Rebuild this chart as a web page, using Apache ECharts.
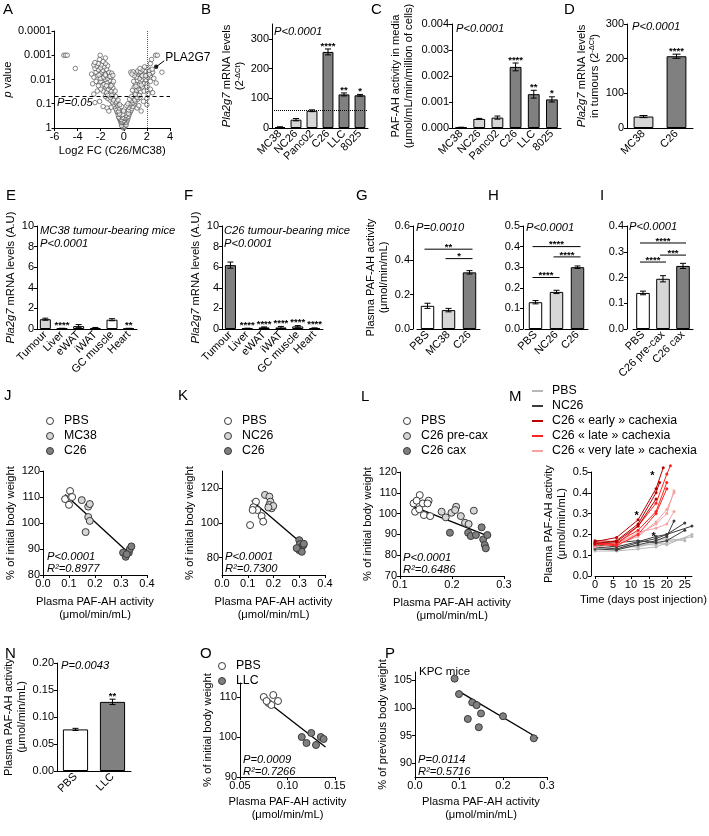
<!DOCTYPE html>
<html>
<head>
<meta charset="utf-8">
<script src="https://cdn.jsdelivr.net/npm/echarts@6/dist/echarts.min.js"></script>
<style>html,body{margin:0;padding:0;background:#fff}#fig{width:709px;height:836px}</style>
</head>
<body>
<div id="fig"></div>
<script>
// ---- data ----
// A: volcano, [log2 FC, p value]
var volcano = [
  [-0.05,1],[0.02,0.95],[0.08,0.9],[-0.12,0.85],[0.1,0.8],[-0.08,0.75],[0.15,0.7],[-0.18,0.68],[0.05,0.65],
  [0.0,0.85],[-0.03,0.7],[0.12,0.62],[-0.2,0.8],[0.2,0.75],[-0.1,0.6],[0.07,0.55],
  [-0.25,0.6],[0.22,0.58],[-0.3,0.5],[0.28,0.5],[-0.15,0.55],[0.12,0.45],[-0.35,0.42],[0.35,0.42],[0,0.5],[-0.05,0.4],
  [-0.22,0.45],[0.18,0.4],[-0.4,0.38],[0.3,0.36],[0.02,0.38],[-0.12,0.36],
  [-0.45,0.35],[0.4,0.33],[-0.2,0.3],[0.18,0.3],[-0.5,0.28],[0.48,0.27],[-0.55,0.22],[0.55,0.22],[-0.3,0.22],[0.3,0.2],
  [-0.62,0.2],[0.62,0.19],[0.05,0.25],[-0.1,0.28],[-0.38,0.26],[0.38,0.25],[-0.45,0.2],[0.42,0.18],[-0.02,0.2],
  [-0.7,0.16],[0.7,0.16],[-0.4,0.15],[0.45,0.14],[-0.8,0.13],[0.78,0.13],[-0.55,0.12],[0.55,0.11],[-0.9,0.11],[0.9,0.1],
  [-0.2,0.13],[0.25,0.12],[-1.1,0.14],[1.15,0.15],[-1.45,0.15],[1.5,0.2],[-1.8,0.13],[1.3,0.12],[-1.3,0.2],[2.0,0.11],
  [-0.6,0.1],[0.62,0.095],[-0.35,0.11],[0.35,0.1],[-0.72,0.09],[0.8,0.09],
  [-1.0,0.085],[1.0,0.08],[-0.65,0.08],[0.7,0.075],[-1.2,0.07],[1.2,0.065],[-0.8,0.06],[0.85,0.06],[-1.4,0.06],[1.4,0.055],
  [-0.5,0.07],[0.5,0.065],[-1.0,0.05],[1.05,0.05],[-1.6,0.05],[1.7,0.08],[-2.1,0.08],[2.0,0.06],[-2.5,0.09],
  [-0.9,0.07],[0.95,0.07],[-1.15,0.055],[1.15,0.055],[-0.7,0.05],[0.68,0.05],
  [-1.2,0.04],[1.2,0.04],[-0.9,0.035],[0.95,0.035],[-1.5,0.035],[1.45,0.033],[-1.1,0.03],[1.1,0.028],[-1.8,0.03],[1.75,0.03],
  [-1.35,0.025],[1.3,0.024],[-0.95,0.022],[0.9,0.021],[-2.0,0.025],[2.05,0.028],[-1.6,0.02],[1.6,0.02],[-2.3,0.03],[2.3,0.025],
  [-0.75,0.03],[0.75,0.028],[-2.6,0.04],[2.5,0.035],[-1.05,0.045],[1.0,0.042],[-1.4,0.045],[1.35,0.045],[-1.2,0.02],[1.2,0.02],
  [-1.3,0.017],[1.25,0.017],[-1.0,0.015],[1.0,0.015],[-1.7,0.016],[1.7,0.015],[-2.1,0.014],[2.0,0.016],[-1.45,0.013],[1.45,0.012],
  [-1.2,0.011],[1.15,0.011],[-2.4,0.012],[2.3,0.012],[-1.85,0.011],[1.9,0.01],[-0.9,0.012],[0.85,0.012],[-2.7,0.015],[2.8,0.014],
  [-1.6,0.01],[1.55,0.01],[-1.1,0.018],[1.05,0.019],[-1.5,0.018],[1.5,0.017],[-2.0,0.012],[-2.2,0.018],
  [-1.4,0.009],[1.35,0.009],[-1.1,0.008],[1.1,0.008],[-2.0,0.009],[2.05,0.008],[-1.75,0.008],[1.75,0.008],[-2.3,0.007],[2.3,0.007],
  [-1.5,0.007],[1.5,0.0065],[-1.25,0.006],[1.25,0.006],[-2.6,0.008],[2.6,0.009],[-2.0,0.006],[1.95,0.006],[-1.65,0.0055],[1.65,0.0055],
  [-2.4,0.005],[2.4,0.0055],[-1.3,0.005],[1.3,0.005],[-2.8,0.006],[2.15,0.005],[-1.9,0.005],[1.85,0.0045],[-1.05,0.0055],[1.0,0.0055],
  [0.6,0.005],[0.8,0.0048],[1.2,0.0045],[1.45,0.0048],[2.5,0.005],[0.9,0.007],[0.7,0.006],[1.6,0.007],[1.9,0.007],[2.2,0.006],
  [-1.2,0.0075],[-1.6,0.0065],[-2.15,0.0065],[-0.95,0.0068],
  [-2.2,0.004],[2.2,0.0042],[-1.8,0.0042],[1.6,0.004],[-2.5,0.0035],[2.45,0.0038],[-1.5,0.0038],[1.4,0.0035],[-2.0,0.0033],[2.0,0.0033],
  [-1.7,0.003],[1.8,0.003],[-2.35,0.0028],[-2.6,0.0025],[-1.95,0.0025],[-1.4,0.0027],[-2.2,0.0022],[2.3,0.0022],[-1.6,0.0022],
  [-2.5,0.002],[-1.8,0.0018],[-2.1,0.0015],[-1.6,0.0013],
  [-5.2,0.001],[-5.05,0.001],[-4.9,0.001],[-4.2,0.0035],[-2.05,0.001],[2.75,0.001],[2.9,0.001],[3.3,0.005],[2.4,0.0015],
  [2.0,0.02],[2.1,0.04]
];
var pla2g7 = [[2.8, 0.003]];
var pCutoff = 0.05, fcCutoff = 2;

// B-D
var cellLines = ['MC38', 'NC26', 'Panc02', 'C26', 'LLC', '8025'];
var mrnaCells = [3, 28, 58, 256, 113, 110];
var mrnaCellsSem = [1, 4, 3, 10, 5, 3];
var mrnaCellsStars = ['', '', '', '****', '**', '*'];
var mrnaCellsRef = 60;
var pafMedia = [0.00002, 0.00035, 0.0004, 0.00235, 0.0013, 0.0011];
var pafMediaSem = [0.00001, 0.00002, 0.00006, 0.00015, 0.00015, 0.0001];
var pafMediaStars = ['', '', '', '****', '**', '*'];
var pafMediaRef = 0.00042;
var tumours = ['MC38', 'C26'];
var mrnaTumours = [33, 207];
var mrnaTumoursSem = [3, 6];
var mrnaTumoursStars = ['', '****'];

// E-F
var tissues = ['Tumour', 'Liver', 'eWAT', 'iWAT', 'GC muscle', 'Heart'];
var mrnaMC38 = [0.95, 0.05, 0.28, 0.1, 0.9, 0.05];
var mrnaMC38Sem = [0.1, 0.02, 0.15, 0.05, 0.1, 0.02];
var mrnaMC38Stars = ['', '****', '', '', '', '**'];
var mrnaC26 = [6.2, 0.05, 0.15, 0.15, 0.25, 0.08];
var mrnaC26Sem = [0.3, 0.03, 0.05, 0.1, 0.08, 0.03];
var mrnaC26Stars = ['', '****', '****', '****', '****', '****'];

// G-I
var groupsG = ['PBS', 'MC38', 'C26'];
var plasmaG = [0.135, 0.11, 0.33];
var plasmaGSem = [0.015, 0.01, 0.01];
var sigG = [[0, 2, 0.465], [1, 2, 0.41]];
var sigGText = ['**', '*'];
var groupsH = ['PBS', 'NC26', 'C26'];
var plasmaH = [0.13, 0.18, 0.30];
var plasmaHSem = [0.008, 0.008, 0.006];
var sigH = [[0, 2, 0.40], [1, 2, 0.35], [0, 1, 0.25]];
var sigHText = ['****', '****', '****'];
var groupsI = ['PBS', 'C26 pre-cax', 'C26 cax'];
var plasmaI = [0.14, 0.195, 0.245];
var plasmaISem = [0.007, 0.012, 0.01];
var sigI = [[0, 2, 0.334], [1, 2, 0.287], [0, 1, 0.26]];
var sigIText = ['****', '***', '****'];

// J-L: [plasma PAF-AH, % of initial body weight]
var jPBS = [[0.085, 109.2], [0.104, 112.3], [0.108, 110], [0.112, 110], [0.10, 107]];
var jMC38 = [[0.149, 108.8], [0.164, 96.5], [0.174, 106.3], [0.18, 107.3], [0.174, 102.3], [0.18, 100.8]];
var jC26 = [[0.308, 88.6], [0.318, 87], [0.33, 88.6], [0.334, 90], [0.34, 91], [0.322, 88]];
var jFit = [[0.085, 111], [0.33, 88.5]];
var kPBS = [[0.109, 98.8], [0.132, 112.3], [0.122, 109.1], [0.137, 107.5], [0.119, 107.5], [0.154, 104], [0.16, 100.8]];
var kNC26 = [[0.167, 116.2], [0.184, 115.2], [0.188, 112.3], [0.184, 110.4], [0.193, 108.5], [0.199, 109.8], [0.18, 109]];
var kC26 = [[0.30, 90.1], [0.303, 87.8], [0.31, 86.3], [0.316, 87.2], [0.30, 84.3], [0.31, 83.4], [0.29, 85.5], [0.318, 88]];
var kFit = [[0.115, 113], [0.30, 89.5]];
var lPBS = [[0.126, 104.9], [0.138, 108.9], [0.132, 106.2], [0.144, 104.9], [0.155, 106.2], [0.129, 100.9], [0.137, 102.1], [0.146, 99.3], [0.158, 98.8], [0.153, 104.9]];
var lPre = [[0.18, 100.9], [0.188, 98.2], [0.199, 100.4], [0.208, 103.3], [0.206, 101.7], [0.217, 98.8], [0.225, 95.6], [0.242, 101.4], [0.232, 95]];
var lCax = [[0.196, 90.8], [0.231, 90.8], [0.236, 89.2], [0.246, 89.7], [0.257, 93.4], [0.26, 87.6], [0.263, 84.9], [0.265, 83.3], [0.268, 89.7]];
var lFit = [[0.122, 103.7], [0.27, 89.2]];

// M: [day, plasma PAF-AH] per mouse
var mPBS = [
  [[0, 0.12], [6, 0.12], [12, 0.13], [17, 0.14], [20, 0.16], [27, 0.19]],
  [[0, 0.14], [6, 0.13], [12, 0.15], [17, 0.15], [20, 0.17], [25, 0.18]],
  [[0, 0.13], [6, 0.14], [12, 0.14], [17, 0.16], [20, 0.15], [27, 0.2]],
  [[0, 0.15], [6, 0.15], [12, 0.14], [17, 0.17], [20, 0.18], [25, 0.17]]
];
var mNC26 = [
  [[0, 0.13], [6, 0.125], [12, 0.15], [17, 0.17], [20, 0.19], [22, 0.265]],
  [[0, 0.14], [6, 0.13], [12, 0.16], [17, 0.18], [20, 0.2], [25, 0.255]],
  [[0, 0.15], [6, 0.14], [12, 0.165], [17, 0.19], [20, 0.2], [27, 0.24]],
  [[0, 0.16], [6, 0.16], [12, 0.17], [17, 0.16], [20, 0.17], [25, 0.22]]
];
var mEarly = [
  [[0, 0.165], [6, 0.185], [12, 0.27], [17, 0.42], [19, 0.52]],
  [[0, 0.155], [6, 0.17], [12, 0.25], [17, 0.40], [18, 0.45]],
  [[0, 0.17], [6, 0.165], [12, 0.24], [17, 0.37]]
];
var mLate = [
  [[0, 0.16], [6, 0.15], [12, 0.24], [17, 0.35], [20, 0.49], [21, 0.53]],
  [[0, 0.15], [6, 0.16], [12, 0.22], [17, 0.31], [20, 0.45]],
  [[0, 0.155], [6, 0.145], [12, 0.2], [17, 0.3], [20, 0.42]]
];
var mVeryLate = [
  [[0, 0.15], [6, 0.16], [12, 0.2], [17, 0.25], [20, 0.3], [22, 0.41]],
  [[0, 0.16], [6, 0.15], [12, 0.19], [17, 0.26], [20, 0.32], [22, 0.4]],
  [[0, 0.14], [6, 0.15], [12, 0.21], [17, 0.23], [20, 0.25], [22, 0.31]]
];
var mStars = [[11.6, 0.29], [16, 0.48], [16.3, 0.19]];

// N-P
var groupsN = ['PBS', 'LLC'];
var plasmaN = [0.077, 0.128];
var plasmaNSem = [0.002, 0.005];
var plasmaNStars = ['', '**'];
var oPBS = [[0.075, 110], [0.08, 108.5], [0.085, 110.5], [0.09, 109], [0.083, 108], [0.078, 109]];
var oLLC = [[0.115, 100], [0.12, 98.5], [0.125, 101], [0.13, 98], [0.135, 100], [0.138, 99.5]];
var oFit = [[0.075, 109.5], [0.14, 97.5]];
var pKPC = [[0.09, 105.3], [0.1, 102.5], [0.12, 98], [0.13, 101], [0.14, 100.5], [0.145, 96.5], [0.15, 99], [0.2, 98.5], [0.27, 94.5]];
var pFit = [[0.1, 103], [0.28, 94.5]];

// ---- drawing ----
var FONT = '"Liberation Sans", Arial, Helvetica, sans-serif';
var WHITE = '#ffffff', LIGHT = '#d6d6d6', DARK = '#808080';
var FS = 11;

var grids = [], xAxes = [], yAxes = [], series = [], graphics = [];

function addGrid(l, t, w, h) {
    grids.push({left: l, top: t, width: w, height: h});
    return grids.length - 1;
}

function nameStyle() {
    return {color: '#000', fontSize: 11.2, lineHeight: 13, fontFamily: FONT,
        rich: {
            i: {fontStyle: 'italic', fontSize: 11.2, lineHeight: 13, fontFamily: FONT},
            s: {fontSize: 7.5, lineHeight: 13, verticalAlign: 'top', fontFamily: FONT}
        }};
}

function valAxis(g, min, max, step, digits, extra) {
    var ax = {
        type: 'value', gridIndex: g, min: min, max: max, interval: step,
        axisLine: {show: true, onZero: false, lineStyle: {color: '#000', width: 1}},
        axisTick: {show: true, length: 3, lineStyle: {color: '#000'}},
        splitLine: {show: false},
        axisLabel: {color: '#000', fontSize: FS, margin: 3, fontFamily: FONT,
            formatter: function (v) {
                var k = Math.round((v - min) / step);
                if (Math.abs(min + k * step - v) > step * 1e-6) return '';
                return v.toFixed(digits);
            }},
        nameLocation: 'middle', nameTextStyle: nameStyle()
    };
    for (var key in extra) ax[key] = extra[key];
    return ax;
}

// axis whose labelled ticks do not start at min
function setTicks(ax, vals, digits) {
    ax.axisTick.customValues = vals;
    ax.axisLabel.customValues = vals;
    ax.axisLabel.formatter = function (v) { return (+v).toFixed(digits); };
    return ax;
}

function catAxis(g, cats) {
    return {
        type: 'category', gridIndex: g, data: cats,
        axisLine: {show: true, onZero: false, lineStyle: {color: '#000', width: 1}},
        axisTick: {show: false},
        axisLabel: {color: '#000', fontSize: FS, rotate: 45, interval: 0, margin: 4, fontFamily: FONT}
    };
}

var STARFONT = 'bold 9.5px ' + FONT;

function barSeries(g, vals, colors, width, refLine) {
    var s = {
        type: 'bar', xAxisIndex: g, yAxisIndex: g, barWidth: width, z: 2,
        data: vals.map(function (v, i) { return {value: v, itemStyle: {color: colors[i]}}; }),
        itemStyle: {borderColor: '#000', borderWidth: 1}
    };
    if (refLine != null) {
        s.markLine = {silent: true, symbol: 'none', label: {show: false},
            lineStyle: {type: 'dotted', color: '#000', width: 1}, data: [{yAxis: refLine}]};
    }
    return s;
}

function errSeries(g, vals, sems, stars, cap) {
    return {
        type: 'custom', xAxisIndex: g, yAxisIndex: g, z: 10, silent: true,
        data: vals.map(function (v, i) { return [i, v, sems[i]]; }),
        renderItem: function (p, api) {
            var i = api.value(0), v = api.value(1), s = api.value(2);
            var hi = api.coord([i, v + s]), lo = api.coord([i, Math.max(v - s, 0)]);
            var st = {stroke: '#000', lineWidth: 1};
            var ch = [
                {type: 'line', shape: {x1: hi[0], y1: hi[1], x2: lo[0], y2: lo[1]}, style: st},
                {type: 'line', shape: {x1: hi[0] - cap, y1: hi[1], x2: hi[0] + cap, y2: hi[1]}, style: st},
                {type: 'line', shape: {x1: lo[0] - cap, y1: lo[1], x2: lo[0] + cap, y2: lo[1]}, style: st}
            ];
            var star = stars && stars[p.dataIndex];
            if (star) {
                ch.push({type: 'text', x: hi[0], y: hi[1] + 2,
                    style: {text: star, fill: '#000', font: STARFONT, align: 'center', verticalAlign: 'bottom'}});
            }
            return {type: 'group', children: ch};
        }
    };
}

function sigSeries(g, pairs, labels) {
    return {
        type: 'custom', xAxisIndex: g, yAxisIndex: g, z: 10, silent: true,
        data: pairs,
        renderItem: function (p, api) {
            var a = api.coord([api.value(0), api.value(2)]);
            var b = api.coord([api.value(1), api.value(2)]);
            return {type: 'group', children: [
                {type: 'line', shape: {x1: a[0] - 3, y1: a[1], x2: b[0] + 3, y2: b[1]}, style: {stroke: '#000', lineWidth: 1}},
                {type: 'text', x: (a[0] + b[0]) / 2, y: a[1] + 3,
                    style: {text: labels[p.dataIndex], fill: '#000', font: STARFONT, align: 'center', verticalAlign: 'bottom'}}
            ]};
        }
    };
}

function dots(g, pts, fill) {
    return {type: 'scatter', xAxisIndex: g, yAxisIndex: g, data: pts, symbolSize: 7, z: 5,
        itemStyle: {color: fill, borderColor: '#3a3a3a', borderWidth: 1, opacity: 1}};
}

function fitLine(g, pts) {
    return {type: 'line', xAxisIndex: g, yAxisIndex: g, data: pts, symbol: 'none', z: 4,
        lineStyle: {color: '#000', width: 1.3}};
}

function txt(x, y, s, font, extra) {
    var st = {text: s, fill: '#000', font: font || ('11.2px ' + FONT), verticalAlign: 'middle'};
    for (var k in extra) st[k] = extra[k];
    graphics.push({type: 'text', x: x, y: y, style: st, z: 100});
}
var ITAL = 'italic 11.2px ' + FONT;
var LETTER = '15px ' + FONT;
var LEG = '12.3px ' + FONT;

function legendDot(x, y, fill, label) {
    graphics.push({type: 'circle', shape: {cx: x, cy: y, r: 3.5}, style: {fill: fill, stroke: '#3a3a3a', lineWidth: 1}, z: 100});
    txt(x + 14, y, label, LEG);
}
function legendLine(x, y, color, label) {
    graphics.push({type: 'line', shape: {x1: x, y1: y, x2: x + 11, y2: y}, style: {stroke: color, lineWidth: 2}, z: 100});
    txt(x + 20, y, label, LEG);
}

var yName = '{i|Pla2g7} mRNA levels';
var plasmaName = 'Plasma PAF-AH activity\n(μmol/min/mL)';

// A volcano
var gA = addGrid(53, 31, 117, 97);
xAxes.push(valAxis(gA, -6, 4, 2, 0, {name: 'Log2 FC (C26/MC38)', nameGap: 16}));
yAxes.push({
    type: 'log', gridIndex: gA, logBase: 10, min: 0.0001, max: 1, inverse: true,
    axisLine: {show: true, onZero: false, lineStyle: {color: '#000'}},
    axisTick: {show: true, length: 3, lineStyle: {color: '#000'}},
    splitLine: {show: false},
    axisLabel: {color: '#000', fontSize: FS, margin: 3, fontFamily: FONT,
        formatter: function (v) { return String(+(+v).toPrecision(1)); }},
    name: '{i|p} value', nameLocation: 'middle', nameGap: 28, nameTextStyle: nameStyle()
});
series.push({
    type: 'scatter', xAxisIndex: gA, yAxisIndex: gA, data: volcano, symbolSize: 4.5, z: 3,
    itemStyle: {color: 'rgba(255,255,255,0.9)', borderColor: '#444', borderWidth: 0.8},
    markLine: {silent: true, symbol: 'none', label: {show: false}, animation: false,
        data: [
            {yAxis: pCutoff, lineStyle: {type: [4, 3], color: '#000', width: 1}},
            {xAxis: fcCutoff, lineStyle: {type: 'dotted', color: '#555', width: 1}}
        ]}
});
series.push({
    type: 'custom', xAxisIndex: gA, yAxisIndex: gA, z: 6, silent: true, data: pla2g7,
    renderItem: function (p, api) {
        var c = api.coord([api.value(0), api.value(1)]);
        return {type: 'group', children: [
            {type: 'circle', shape: {cx: c[0], cy: c[1], r: 2.2}, style: {fill: '#222'}},
            {type: 'line', shape: {x1: c[0], y1: c[1], x2: c[0] + 8, y2: c[1] - 6}, style: {stroke: '#000', lineWidth: 1}},
            {type: 'text', x: c[0] + 9, y: c[1] - 9, style: {text: 'PLA2G7', fill: '#000', font: '12px ' + FONT, verticalAlign: 'middle'}}
        ]};
    }
});
txt(57, 103, 'P=0.05', ITAL);

// B
var gB = addGrid(272, 24, 96, 104);
xAxes.push(catAxis(gB, cellLines));
yAxes.push(setTicks(valAxis(gB, 0, 350, 100, 0, {name: yName + '\n(2{s|-ΔCt})', nameGap: 25}), [0, 100, 200, 300], 0));
series.push(barSeries(gB, mrnaCells, [WHITE, LIGHT, LIGHT, DARK, DARK, DARK], '68%', mrnaCellsRef));
series.push(errSeries(gB, mrnaCells, mrnaCellsSem, mrnaCellsStars, 3));
txt(274, 32, 'P<0.0001', ITAL);

// C
var gC = addGrid(452, 24, 109, 104);
xAxes.push(catAxis(gC, cellLines));
yAxes.push(valAxis(gC, 0, 0.004, 0.001, 3, {name: 'PAF-AH activity in media\n(μmol/mL/min/million of cells)', nameGap: 37}));
series.push(barSeries(gC, pafMedia, [WHITE, LIGHT, LIGHT, DARK, DARK, DARK], '65%', pafMediaRef));
series.push(errSeries(gC, pafMedia, pafMediaSem, pafMediaStars, 3));
txt(456, 29, 'P<0.0001', ITAL);

// D
var gD = addGrid(627, 24, 66, 104);
xAxes.push(catAxis(gD, tumours));
yAxes.push(valAxis(gD, 0, 300, 100, 0, {name: yName + '\nin tumours (2{s|-ΔCt})', nameGap: 26}));
series.push(barSeries(gD, mrnaTumours, [LIGHT, DARK], '60%'));
series.push(errSeries(gD, mrnaTumours, mrnaTumoursSem, mrnaTumoursStars, 4));
txt(632, 27, 'P<0.0001', ITAL);

// E
var gE = addGrid(37, 226, 100, 103);
xAxes.push(catAxis(gE, tissues));
yAxes.push(valAxis(gE, 0, 10, 2, 0, {name: yName + ' (A.U)', nameGap: 19}));
series.push(barSeries(gE, mrnaMC38, [LIGHT, WHITE, WHITE, WHITE, WHITE, WHITE], '66%'));
series.push(errSeries(gE, mrnaMC38, mrnaMC38Sem, mrnaMC38Stars, 3));
txt(40, 231, 'MC38 tumour-bearing mice', ITAL);
txt(40, 244, 'P<0.0001', ITAL);

// F
var gF = addGrid(222, 226, 101, 103);
xAxes.push(catAxis(gF, tissues));
yAxes.push(valAxis(gF, 0, 10, 2, 0, {name: yName + ' (A.U)', nameGap: 19}));
series.push(barSeries(gF, mrnaC26, [DARK, WHITE, WHITE, WHITE, WHITE, WHITE], '66%'));
series.push(errSeries(gF, mrnaC26, mrnaC26Sem, mrnaC26Stars, 3));
txt(224, 231, 'C26 tumour-bearing mice', ITAL);
txt(224, 244, 'P<0.0001', ITAL);

// G
var gG = addGrid(417, 226, 63, 103);
xAxes.push(catAxis(gG, groupsG));
yAxes.push(valAxis(gG, 0, 0.6, 0.2, 1, {name: plasmaName, nameGap: 20, offset: 4}));
series.push(barSeries(gG, plasmaG, [WHITE, LIGHT, DARK], '64%'));
series.push(errSeries(gG, plasmaG, plasmaGSem, null, 3));
series.push(sigSeries(gG, sigG, sigGText));
txt(416, 228, 'P=0.0010', ITAL);

// H
var gH = addGrid(525, 226, 63, 103);
xAxes.push(catAxis(gH, groupsH));
yAxes.push(valAxis(gH, 0, 0.5, 0.1, 1, {offset: 2}));
series.push(barSeries(gH, plasmaH, [WHITE, LIGHT, DARK], '64%'));
series.push(errSeries(gH, plasmaH, plasmaHSem, null, 3));
series.push(sigSeries(gH, sigH, sigHText));
txt(526, 228, 'P<0.0001', ITAL);

// I
var gI = addGrid(633, 226, 60, 103);
xAxes.push(catAxis(gI, groupsI));
yAxes.push(valAxis(gI, 0, 0.4, 0.1, 1, {offset: 6}));
series.push(barSeries(gI, plasmaI, [WHITE, LIGHT, DARK], '68%'));
series.push(errSeries(gI, plasmaI, plasmaISem, null, 3));
series.push(sigSeries(gI, sigI, sigIText));
txt(629, 227, 'P<0.0001', ITAL);

// J
var gJ = addGrid(43, 471, 104, 104);
xAxes.push(valAxis(gJ, 0, 0.4, 0.1, 1, {name: plasmaName, nameGap: 20}));
yAxes.push(valAxis(gJ, 80, 120, 10, 0, {name: '% of initial body weight', nameGap: 24}));
series.push(fitLine(gJ, jFit), dots(gJ, jPBS, WHITE), dots(gJ, jMC38, LIGHT), dots(gJ, jC26, DARK));
txt(47, 557, 'P<0.0001', ITAL);
txt(47, 569, 'R²=0.8977', ITAL);
legendDot(50, 421, WHITE, 'PBS');
legendDot(50, 436, LIGHT, 'MC38');
legendDot(50, 451, DARK, 'C26');

// K
var gK = addGrid(222, 471, 103, 104);
xAxes.push(valAxis(gK, 0, 0.4, 0.1, 1, {name: plasmaName, nameGap: 20}));
yAxes.push(setTicks(valAxis(gK, 70, 130, 10, 0, {name: '% of initial body weight', nameGap: 24}), [80, 100, 120], 0));
series.push(fitLine(gK, kFit), dots(gK, kPBS, WHITE), dots(gK, kNC26, LIGHT), dots(gK, kC26, DARK));
txt(225, 557, 'P<0.0001', ITAL);
txt(225, 569, 'R²=0.7300', ITAL);
legendDot(228, 421, WHITE, 'PBS');
legendDot(228, 436, LIGHT, 'NC26');
legendDot(228, 451, DARK, 'C26');

// L
var gL = addGrid(400, 472, 104, 104);
xAxes.push(valAxis(gL, 0.1, 0.3, 0.1, 1, {name: plasmaName, nameGap: 20}));
yAxes.push(valAxis(gL, 70, 120, 10, 0, {name: '% of initial body weight', nameGap: 25}));
series.push(fitLine(gL, lFit), dots(gL, lPBS, WHITE), dots(gL, lPre, LIGHT), dots(gL, lCax, DARK));
txt(403, 558, 'P<0.0001', ITAL);
txt(403, 570, 'R²=0.6486', ITAL);
legendDot(407, 421, WHITE, 'PBS');
legendDot(407, 436, LIGHT, 'C26 pre-cax');
legendDot(407, 451, DARK, 'C26 cax');

// M
var gM = addGrid(595, 472, 104, 104);
xAxes.push(setTicks(valAxis(gM, 0, 27, 5, 0, {name: 'Time (days post injection)', nameGap: 17}), [0, 5, 10, 15, 20, 25], 0));
yAxes.push(valAxis(gM, 0, 0.5, 0.1, 1, {name: plasmaName, nameGap: 20, offset: 4}));
var mGroups = [[mPBS, '#b8b8b8'], [mNC26, '#3c3c3c'], [mVeryLate, '#f4a3a3'], [mLate, '#ff2222'], [mEarly, '#b80000']];
mGroups.forEach(function (grp) {
    grp[0].forEach(function (line) {
        series.push({type: 'line', xAxisIndex: gM, yAxisIndex: gM, data: line, clip: false,
            symbol: 'circle', symbolSize: 3, z: 4,
            lineStyle: {color: grp[1], width: 1}, itemStyle: {color: grp[1]}});
    });
});
series.push({
    type: 'custom', xAxisIndex: gM, yAxisIndex: gM, z: 8, silent: true, data: mStars,
    renderItem: function (p, api) {
        var c = api.coord([api.value(0), api.value(1)]);
        return {type: 'text', x: c[0], y: c[1], style: {text: '*', fill: '#000', font: 'bold 11px ' + FONT, align: 'center', verticalAlign: 'middle'}};
    }
});
legendLine(532, 391, '#b8b8b8', 'PBS');
legendLine(532, 406, '#3c3c3c', 'NC26');
legendLine(532, 421, '#b80000', 'C26 « early » cachexia');
legendLine(532, 436, '#ff2222', 'C26 « late » cachexia');
legendLine(532, 451, '#f4a3a3', 'C26 « very late » cachexia');

// N
var gN = addGrid(57, 663, 74, 108);
xAxes.push(catAxis(gN, groupsN));
yAxes.push(valAxis(gN, 0, 0.2, 0.05, 2, {name: plasmaName, nameGap: 29}));
series.push(barSeries(gN, plasmaN, [WHITE, DARK], '68%'));
series.push(errSeries(gN, plasmaN, plasmaNSem, plasmaNStars, 3));
txt(61, 666, 'P=0.0043', ITAL);

// O
var gO = addGrid(240, 683, 95, 94);
xAxes.push(valAxis(gO, 0.05, 0.15, 0.05, 2, {name: plasmaName, nameGap: 18}));
yAxes.push(setTicks(valAxis(gO, 90, 113.5, 10, 0, {name: '% of initial body weight', nameGap: 25}), [90, 100, 110], 0));
series.push(fitLine(gO, oFit), dots(gO, oPBS, WHITE), dots(gO, oLLC, DARK));
txt(243, 760, 'P=0.0009', ITAL);
txt(243, 772, 'R²=0.7266', ITAL);
legendDot(222, 666, WHITE, 'PBS');
legendDot(222, 681, DARK, 'LLC');

// P
var gP = addGrid(415, 672, 132, 105);
xAxes.push(valAxis(gP, 0, 0.3, 0.1, 1, {name: plasmaName, nameGap: 18}));
yAxes.push(setTicks(valAxis(gP, 87.5, 106.5, 5, 0, {name: '% of previous body weight', nameGap: 25}), [90, 95, 100, 105], 0));
series.push(fitLine(gP, pFit), dots(gP, pKPC, DARK));
txt(418, 760, 'P=0.0114', ITAL);
txt(418, 772, 'R²=0.5716', ITAL);
txt(419, 672, 'KPC mice', '11.5px ' + FONT);

// panel letters
[['A', 3, 10], ['B', 201, 10], ['C', 371, 10], ['D', 564, 10],
 ['E', 6, 196], ['F', 184, 196], ['G', 356, 196], ['H', 488, 196], ['I', 600, 196],
 ['J', 4, 396], ['K', 178, 396], ['L', 361, 397], ['M', 509, 397],
 ['N', 5, 654], ['O', 200, 654], ['P', 385, 654]].forEach(function (l) {
    txt(l[1], l[2], l[0], LETTER);
});

var chart = echarts.init(document.getElementById('fig'));
chart.setOption({
    animation: false,
    backgroundColor: '#fff',
    textStyle: {fontFamily: FONT},
    grid: grids,
    xAxis: xAxes,
    yAxis: yAxes,
    series: series,
    graphic: graphics
});
</script>
</body>
</html>
